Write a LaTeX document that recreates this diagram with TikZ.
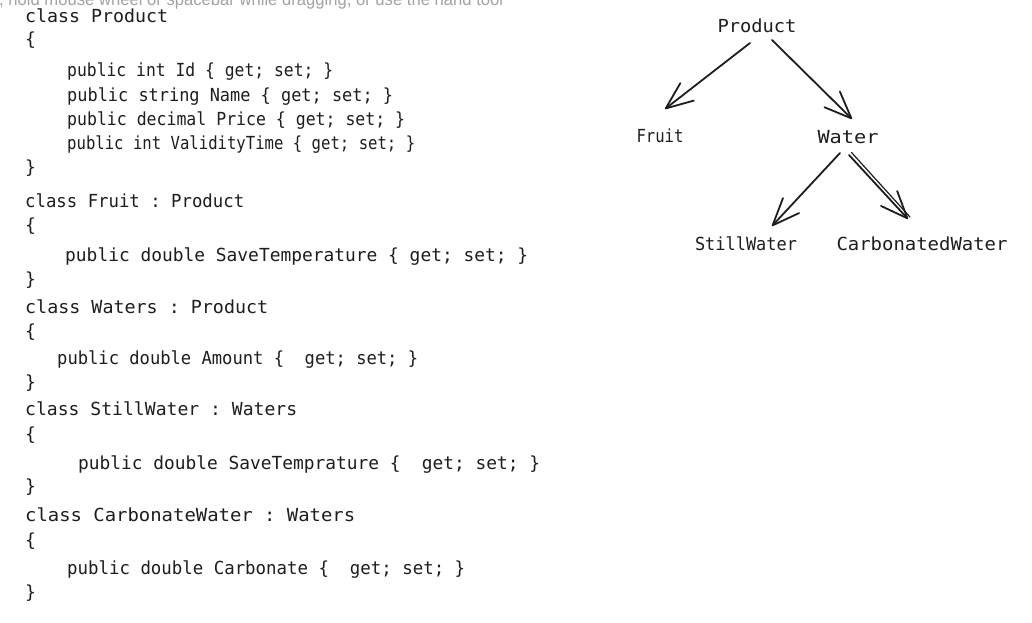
\documentclass[tikz,border=0pt]{standalone}
\usepackage{graphicx}
\usepackage{fontspec}
\setmonofont{DejaVu Sans Mono}
\newfontfamily\hintfont{Liberation Sans}
\usetikzlibrary{arrows.meta,calc}
\definecolor{ink}{HTML}{1E1E1E}
\definecolor{hintgray}{HTML}{A3A3A3}
\newcommand{\fitline}[2]{\resizebox{#1pt}{\height}{#2}}
\begin{document}
\begin{tikzpicture}[x=1pt,y=-1pt,
  code/.style={font={\ttfamily\fontsize{18}{22}\selectfont}, text=ink, inner sep=0pt, anchor=base west},
  lbl/.style={font={\ttfamily\fontsize{18}{22}\selectfont}, text=ink, inner sep=0pt, anchor=base},
  hint/.style={font={\hintfont\fontsize{18}{22}\selectfont}, text=hintgray, inner sep=0pt, anchor=base west},
  link/.style={draw=ink, line width=1.8pt, line cap=round, -{Straight Barb[length=27pt,width=22pt,round]}},
  sketch/.style={draw=ink, line width=1.2pt, line cap=round}]
\useasboundingbox[fill=white] (0,0) rectangle (1032,622);

\node[hint] (hint) at (-1,5.5) {\fitline{504}{, hold mouse wheel or spacebar while dragging, or use the hand tool}};

% code listing
\node[code] (c1) at (25,22) {\fitline{143}{class Product}};
\node[code] (c2) at (25,45) {\{};
\node[code] (c3) at (67,76) {\fitline{266}{public int Id \{ get; set; \}}};
\node[code] (c4) at (67,101) {\fitline{326}{public string Name \{ get; set; \}}};
\node[code] (c5) at (67,125) {\fitline{338}{public decimal Price \{ get; set; \}}};
\node[code] (c6) at (67,149) {\fitline{348}{public int ValidityTime \{ get; set; \}}};
\node[code] (c7) at (25,173) {\}};
\node[code] (c8) at (25,207) {\fitline{219}{class Fruit : Product}};
\node[code] (c9) at (25,231) {\{};
\node[code] (c10) at (65,261) {\fitline{463}{public double SaveTemperature \{ get; set; \}}};
\node[code] (c11) at (25,285) {\}};
\node[code] (c12) at (25,313) {\fitline{243}{class Waters : Product}};
\node[code] (c13) at (25,337) {\{};
\node[code] (c14) at (57,364) {\fitline{361}{public double Amount \{\ \ get; set; \}}};
\node[code] (c15) at (25,388) {\}};
\node[code] (c16) at (25,415) {\fitline{272}{class StillWater : Waters}};
\node[code] (c17) at (25,440) {\{};
\node[code] (c18) at (78,469) {\fitline{462}{public double SaveTemprature \{\ \ get; set; \}}};
\node[code] (c19) at (25,492) {\}};
\node[code] (c20) at (25,521) {\fitline{330}{class CarbonateWater : Waters}};
\node[code] (c21) at (25,546) {\{};
\node[code] (c22) at (67,574) {\fitline{398}{public double Carbonate \{\ \ get; set; \}}};
\node[code] (c23) at (25,598) {\}};

% tree
\node[lbl] (prod) at (757,32) {\fitline{79}{Product}};
\node[lbl] (fruit) at (660,142) {\fitline{47}{Fruit}};
\node[lbl] (water) at (848,143) {\fitline{61}{Water}};
\node[lbl] (still) at (746,250) {\fitline{102}{StillWater}};
\node[lbl] (carb) at (922,250) {\fitline{171}{CarbonatedWater}};

\draw[link] ($(prod.base)+(-7,11)$) -- ($(fruit.base)+(5,-33)$);
\draw[link] ($(prod.base)+(15,8)$) -- ($(water.base)+(4,-24)$);
\draw[link] ($(water.base)+(-8,10)$) -- ($(still.base)+(26,-24)$);
\draw[link] ($(water.base)+(1,12)$) -- ($(carb.base)+(-14,-31)$);
\draw[sketch] ($(water.base)+(3.5,9.5)$) -- ($(carb.base)+(-12,-33)$);
\end{tikzpicture}
\end{document}
